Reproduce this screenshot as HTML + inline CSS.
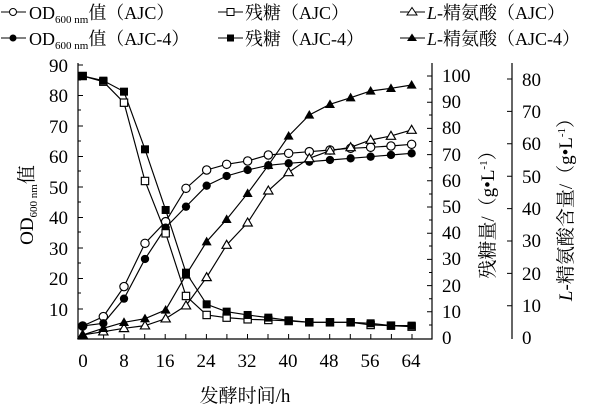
<!DOCTYPE html>
<html><head><meta charset="utf-8"><style>
body{margin:0;background:#fff;}
svg{display:block;font-family:"Liberation Serif","Noto Serif CJK SC","Noto Serif CJK JP",serif;}
</style></head><body>
<svg width="607" height="410" viewBox="0 0 607 410" xmlns="http://www.w3.org/2000/svg">
<g font-size="18" fill="#000">
<line x1="1" y1="12" x2="26" y2="12" stroke="#000"/><circle cx="13" cy="12" r="3.5" fill="#fff" stroke="#000"/>
<text x="29" y="19">OD<tspan font-size="11" dy="4">600 nm</tspan><tspan dy="-4">值（AJC）</tspan></text>
<line x1="218" y1="12" x2="243" y2="12" stroke="#000"/><rect x="227" y="8.5" width="7" height="7" fill="#fff" stroke="#000"/>
<text x="245" y="19">残糖（AJC）</text>
<line x1="400" y1="12" x2="425" y2="12" stroke="#000"/><polygon points="412,7.5 417,15 407,15" fill="#fff" stroke="#000"/>
<text x="427" y="19"><tspan font-style="italic">L</tspan>-精氨酸（AJC）</text>
<line x1="1" y1="38" x2="26" y2="38" stroke="#000"/><circle cx="13" cy="38" r="3.5" fill="#000"/>
<text x="29" y="45">OD<tspan font-size="11" dy="4">600 nm</tspan><tspan dy="-4">值（AJC-4）</tspan></text>
<line x1="218" y1="38" x2="243" y2="38" stroke="#000"/><rect x="227" y="34.5" width="7" height="7" fill="#000"/>
<text x="245" y="45">残糖（AJC-4）</text>
<line x1="400" y1="38" x2="425" y2="38" stroke="#000"/><polygon points="412,33.5 417,41 407,41" fill="#000"/>
<text x="427" y="45"><tspan font-style="italic">L</tspan>-精氨酸（AJC-4）</text>
</g>
<g stroke="#000" stroke-width="1.2" fill="none">
<polyline points="78,63 78,339 432,339 432,63"/>
<line x1="512" y1="63" x2="512" y2="339"/>
</g>
<g stroke="#000" stroke-width="1">
<path d="M78,65h5M78,95.5h5M78,126h5M78,156.5h5M78,187h5M78,217.5h5M78,248h5M78,278.5h5M78,309h5 M78,80h3M78,110h3M78,141h3M78,171h3M78,202h3M78,232h3M78,263h3M78,293h3M78,324h3"/>
<path d="M83,339v-5M103.6,339v-5M124.1,339v-5M144.7,339v-5M165.2,339v-5M185.8,339v-5M206.4,339v-5M226.9,339v-5M247.5,339v-5M268,339v-5M288.6,339v-5M309.2,339v-5M329.7,339v-5M350.3,339v-5M370.8,339v-5M391.4,339v-5M412,339v-5"/>
<path d="M432,76h-5M432,102.2h-5M432,128.4h-5M432,154.6h-5M432,180.8h-5M432,207h-5M432,233.2h-5M432,259.4h-5M432,285.6h-5M432,311.8h-5 M432,89h-3M432,115h-3M432,141.5h-3M432,167.7h-3M432,194h-3M432,220h-3M432,246h-3M432,272.5h-3M432,298.7h-3M432,325h-3"/>
<path d="M512,79h-5M512,111.4h-5M512,143.8h-5M512,176.2h-5M512,208.6h-5M512,241h-5M512,273.4h-5M512,305.8h-5"/>
</g>
<g font-size="19" fill="#000">
<g text-anchor="end">
<text x="68" y="72">90</text><text x="68" y="102">80</text><text x="68" y="133">70</text><text x="68" y="163">60</text><text x="68" y="194">50</text><text x="68" y="224">40</text><text x="68" y="255">30</text><text x="68" y="285">20</text><text x="68" y="316">10</text>
</g>
<g text-anchor="middle">
<text x="83" y="367">0</text><text x="124" y="367">8</text><text x="165" y="367">16</text><text x="206" y="367">24</text><text x="247" y="367">32</text><text x="288" y="367">40</text><text x="329" y="367">48</text><text x="370" y="367">56</text><text x="411" y="367">64</text>
</g>
<g>
<text x="442" y="82">100</text><text x="442" y="108">90</text><text x="442" y="134">80</text><text x="442" y="161">70</text><text x="442" y="187">60</text><text x="442" y="213">50</text><text x="442" y="239">40</text><text x="442" y="265">30</text><text x="442" y="292">20</text><text x="442" y="318">10</text><text x="442" y="344">0</text>
<text x="522" y="86">80</text><text x="522" y="118">70</text><text x="522" y="150">60</text><text x="522" y="183">50</text><text x="522" y="215">40</text><text x="522" y="247">30</text><text x="522" y="280">20</text><text x="522" y="312">10</text><text x="522" y="344">0</text>
</g>
<text x="245" y="402" text-anchor="middle">发酵时间/h</text>
<text transform="translate(33,205) rotate(-90)" text-anchor="middle">OD<tspan font-size="11" dy="4">600 nm</tspan><tspan dy="-4">值</tspan></text>
<text transform="translate(494,210) rotate(-90)" text-anchor="middle">残糖量/（g•L<tspan font-size="11" dy="-7">-1</tspan><tspan dy="7">）</tspan></text>
<text transform="translate(572,205) rotate(-90)" text-anchor="middle"><tspan font-style="italic">L</tspan>-精氨酸含量/（g•L<tspan font-size="11" dy="-7">-1</tspan><tspan dy="7">）</tspan></text>
</g>
<defs>
<circle id="co" r="12.5" fill="#fff" stroke="#000" stroke-width="3.5"/>
<circle id="cf" r="12.5" fill="#000"/>
<rect id="so" x="-11" y="-11" width="22" height="22" fill="#fff" stroke="#000" stroke-width="3.5"/>
<rect id="sf" x="-12" y="-12" width="24" height="24" fill="#000"/>
<polygon id="to" points="0,-14 14,10 -14,10" fill="#fff" stroke="#000" stroke-width="3.5"/>
<polygon id="tf" points="0,-15 15,11 -15,11" fill="#000"/>
</defs>
<g transform="translate(60,60) scale(0.3333)" fill="none" stroke="#000" stroke-width="3.5">
<polyline points="68,798 130,770 192,680 255,550 317,485 378,385 440,330 500,313 563,303 625,285 686,280 748,275 810,270 872,265 932,262 993,258 1055,253"/>
<polyline points="68,798 130,790 192,716 255,597 317,503 378,440 440,377 500,348 563,330 625,316 686,310 748,305 810,300 872,295 932,290 993,285 1055,280"/>
<polyline points="68,48 130,65 192,128 255,363 317,520 378,708 440,765 500,773 563,778 625,780 686,783 748,787 810,787 872,787 932,795 993,797 1055,800"/>
<polyline points="68,48 130,62 192,95 255,268 317,450 378,638 440,733 500,755 563,765 625,773 686,781 748,787 810,787 872,787 932,790 993,797 1055,797"/>
<polyline points="68,825 130,815 192,805 255,797 317,776 378,737 440,652 500,555 563,488 625,392 686,337 748,295 810,272 872,262 932,240 993,228 1055,210"/>
<polyline points="68,825 130,805 192,787 255,776 317,750 378,645 440,545 500,478 563,400 625,316 686,228 748,165 810,133 872,113 932,93 993,85 1055,75"/>
</g>
<g transform="translate(60,60) scale(0.3333)">
<use href="#co" x="68" y="798"/><use href="#co" x="130" y="770"/><use href="#co" x="192" y="680"/><use href="#co" x="255" y="550"/><use href="#co" x="317" y="485"/><use href="#co" x="378" y="385"/><use href="#co" x="440" y="330"/><use href="#co" x="500" y="313"/><use href="#co" x="563" y="303"/><use href="#co" x="625" y="285"/><use href="#co" x="686" y="280"/><use href="#co" x="748" y="275"/><use href="#co" x="810" y="270"/><use href="#co" x="872" y="265"/><use href="#co" x="932" y="262"/><use href="#co" x="993" y="258"/><use href="#co" x="1055" y="253"/>
<use href="#cf" x="68" y="798"/><use href="#cf" x="130" y="790"/><use href="#cf" x="192" y="716"/><use href="#cf" x="255" y="597"/><use href="#cf" x="317" y="503"/><use href="#cf" x="378" y="440"/><use href="#cf" x="440" y="377"/><use href="#cf" x="500" y="348"/><use href="#cf" x="563" y="330"/><use href="#cf" x="625" y="316"/><use href="#cf" x="686" y="310"/><use href="#cf" x="748" y="305"/><use href="#cf" x="810" y="300"/><use href="#cf" x="872" y="295"/><use href="#cf" x="932" y="290"/><use href="#cf" x="993" y="285"/><use href="#cf" x="1055" y="280"/>
<use href="#so" x="68" y="48"/><use href="#so" x="130" y="65"/><use href="#so" x="192" y="128"/><use href="#so" x="255" y="363"/><use href="#so" x="317" y="520"/><use href="#so" x="378" y="708"/><use href="#so" x="440" y="765"/><use href="#so" x="500" y="773"/><use href="#so" x="563" y="778"/><use href="#so" x="625" y="780"/><use href="#so" x="686" y="783"/><use href="#so" x="748" y="787"/><use href="#so" x="810" y="787"/><use href="#so" x="872" y="787"/><use href="#so" x="932" y="795"/><use href="#so" x="993" y="797"/><use href="#so" x="1055" y="800"/>
<use href="#sf" x="68" y="48"/><use href="#sf" x="130" y="62"/><use href="#sf" x="192" y="95"/><use href="#sf" x="255" y="268"/><use href="#sf" x="317" y="450"/><use href="#sf" x="378" y="638"/><use href="#sf" x="440" y="733"/><use href="#sf" x="500" y="755"/><use href="#sf" x="563" y="765"/><use href="#sf" x="625" y="773"/><use href="#sf" x="686" y="781"/><use href="#sf" x="748" y="787"/><use href="#sf" x="810" y="787"/><use href="#sf" x="872" y="787"/><use href="#sf" x="932" y="790"/><use href="#sf" x="993" y="797"/><use href="#sf" x="1055" y="797"/>
<use href="#to" x="68" y="825"/><use href="#to" x="130" y="815"/><use href="#to" x="192" y="805"/><use href="#to" x="255" y="797"/><use href="#to" x="317" y="776"/><use href="#to" x="378" y="737"/><use href="#to" x="440" y="652"/><use href="#to" x="500" y="555"/><use href="#to" x="563" y="488"/><use href="#to" x="625" y="392"/><use href="#to" x="686" y="337"/><use href="#to" x="748" y="295"/><use href="#to" x="810" y="272"/><use href="#to" x="872" y="262"/><use href="#to" x="932" y="240"/><use href="#to" x="993" y="228"/><use href="#to" x="1055" y="210"/>
<use href="#tf" x="68" y="825"/><use href="#tf" x="130" y="805"/><use href="#tf" x="192" y="787"/><use href="#tf" x="255" y="776"/><use href="#tf" x="317" y="750"/><use href="#tf" x="378" y="645"/><use href="#tf" x="440" y="545"/><use href="#tf" x="500" y="478"/><use href="#tf" x="563" y="400"/><use href="#tf" x="625" y="316"/><use href="#tf" x="686" y="228"/><use href="#tf" x="748" y="165"/><use href="#tf" x="810" y="133"/><use href="#tf" x="872" y="113"/><use href="#tf" x="932" y="93"/><use href="#tf" x="993" y="85"/><use href="#tf" x="1055" y="75"/>
</g>
</svg>
</body></html>
